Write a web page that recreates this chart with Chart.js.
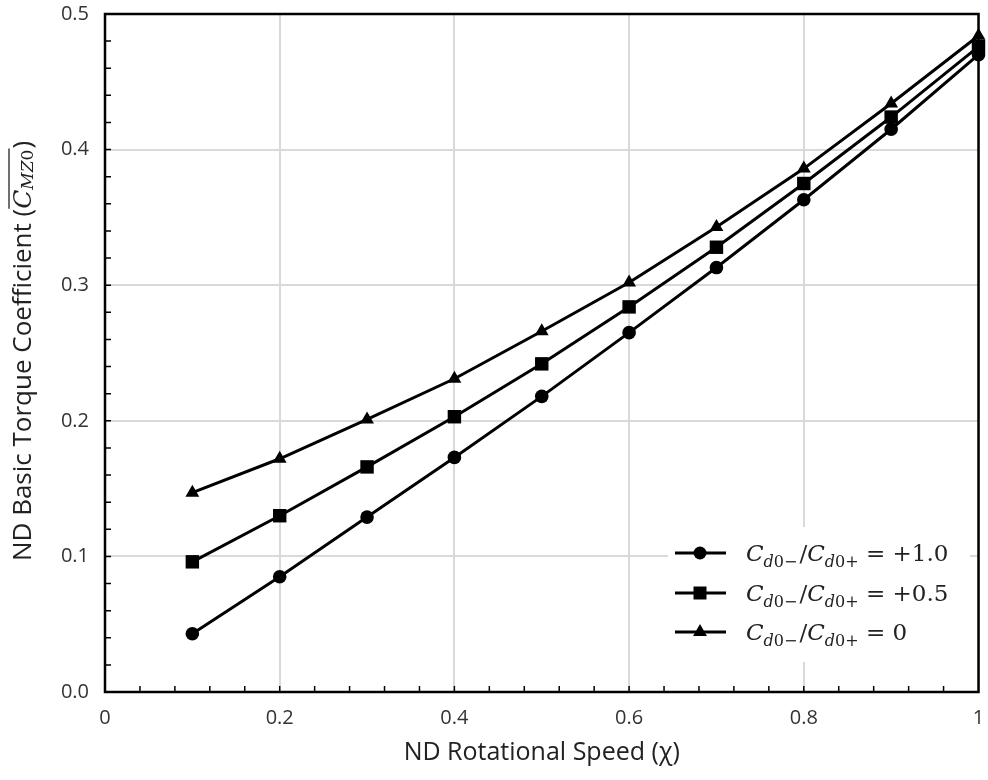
<!DOCTYPE html>
<html>
<head>
<meta charset="utf-8">
<script src="https://cdn.jsdelivr.net/npm/chart.js@4.4.1/dist/chart.umd.min.js"></script>
<style>
  html, body { margin: 0; padding: 0; background: #fff; }
  #wrap { width: 988px; height: 780px; position: relative; }
</style>
</head>
<body>
<div id="wrap"><canvas id="c" width="988" height="780"></canvas></div>
<script>
// ---- data ----
const speeds = [0.1, 0.2, 0.3, 0.4, 0.5, 0.6, 0.7, 0.8, 0.9, 1.0];
const ratioPlus10 = [0.043, 0.085, 0.129, 0.173, 0.218, 0.265, 0.313, 0.363, 0.415, 0.470];
const ratioPlus05 = [0.096, 0.130, 0.166, 0.203, 0.242, 0.284, 0.328, 0.375, 0.424, 0.476];
const ratioZero   = [0.147, 0.172, 0.201, 0.231, 0.266, 0.302, 0.343, 0.386, 0.434, 0.484];
const legendValues = ['+1.0', '+0.5', '0'];
const xTickLabels = ['0', '0.2', '0.4', '0.6', '0.8', '1'];
const yTickLabels = ['0.0', '0.1', '0.2', '0.3', '0.4', '0.5'];
const xTitle = 'ND Rotational Speed (\u03C7)';
const yTitleText = 'ND Basic Torque Coefficient (';

const SANS = '"Open Sans", Lato, sans-serif';
const SERIF = '"DejaVu Serif", "Liberation Serif", serif';

function pts(ys) { return speeds.map((x, i) => ({ x: x, y: ys[i] })); }

function runs(ctx, x, y, list, measureOnly) {
  for (const r of list) {
    ctx.font = r.f;
    if (!measureOnly) ctx.fillText(r.t, x, y + (r.dy || 0));
    x += ctx.measureText(r.t).width + (r.sp || 0);
  }
  return x;
}

function drawMarker(ctx, style, x, y) {
  ctx.beginPath();
  if (style === 'circle') {
    ctx.arc(x, y, 6.5, 0, Math.PI * 2);
  } else if (style === 'rect') {
    ctx.rect(x - 6.5, y - 6.5, 13, 13);
  } else {
    const r = 8;
    ctx.moveTo(x, y - r);
    ctx.lineTo(x + r * Math.sin(2 * Math.PI / 3), y - r * Math.cos(2 * Math.PI / 3));
    ctx.lineTo(x - r * Math.sin(2 * Math.PI / 3), y - r * Math.cos(2 * Math.PI / 3));
    ctx.closePath();
  }
  ctx.fill();
}

const framePlugin = {
  id: 'frame',
  beforeDatasetsDraw(chart) {
    const ctx = chart.ctx, a = chart.chartArea;
    const xs = chart.scales.x, ys = chart.scales.y;
    ctx.save();
    ctx.strokeStyle = '#000';
    ctx.lineWidth = 1.5;
    ctx.beginPath();
    for (let i = 1; i < 25; i++) {
      const px = xs.getPixelForValue(i * 0.04);
      ctx.moveTo(px, a.bottom); ctx.lineTo(px, a.bottom - 6);
    }
    for (let i = 1; i < 25; i++) {
      const py = ys.getPixelForValue(i * 0.02);
      ctx.moveTo(a.left, py); ctx.lineTo(a.left + 6, py);
    }
    ctx.stroke();
    ctx.lineWidth = 2.5;
    ctx.strokeRect(a.left, a.top, a.right - a.left, a.bottom - a.top);
    ctx.restore();
  },
  afterDraw(chart) {
    const ctx = chart.ctx, a = chart.chartArea;
    ctx.save();
    // legend
    const lx = 668, ly = 527, lw = 302, lh = 135;
    ctx.fillStyle = '#fff';
    ctx.fillRect(lx, ly, lw, lh);
    const styles = ['circle', 'rect', 'triangle'];
    const rowsY = [553, 593, 632];
    for (let i = 0; i < 3; i++) {
      const y = rowsY[i];
      ctx.strokeStyle = '#000'; ctx.lineWidth = 3;
      ctx.beginPath(); ctx.moveTo(675, y); ctx.lineTo(726, y); ctx.stroke();
      ctx.fillStyle = '#000';
      drawMarker(ctx, styles[i], 700, y);
      ctx.textBaseline = 'alphabetic'; ctx.textAlign = 'left';
      ctx.fillStyle = '#222';
      const base = y + 8;
      const big = 'italic 23px ' + SERIF, up = '23px ' + SERIF;
      const si = 'italic 16px ' + SERIF, su = '16px ' + SERIF;
      runs(ctx, 746, base, [
        { t: 'C', f: big, sp: 0 },
        { t: 'd', f: si, dy: 6 },
        { t: '0\u2212', f: su, dy: 6, sp: 2 },
        { t: '/', f: up, sp: 0 },
        { t: 'C', f: big, sp: 0 },
        { t: 'd', f: si, dy: 6 },
        { t: '0+', f: su, dy: 6 },
        { t: ' = ' + legendValues[i], f: up }
      ]);
    }
    // y axis title
    ctx.translate(24, 351);
    ctx.rotate(-Math.PI / 2);
    ctx.fillStyle = '#222';
    ctx.textBaseline = 'middle'; ctx.textAlign = 'left';
    const list1 = [{ t: yTitleText, f: '26px ' + SANS }];
    const list2 = [
      { t: 'C', f: 'italic 25px ' + SERIF, sp: 0 },
      { t: 'MZ', f: 'italic 17px ' + SERIF, dy: 5 },
      { t: '0', f: '17px ' + SERIF, dy: 5, sp: 1 }
    ];
    const list3 = [{ t: ')', f: '26px ' + SANS }];
    const w1 = runs(ctx, 0, 0, list1, true);
    const w2 = runs(ctx, 0, 0, list2, true);
    const w3 = runs(ctx, 0, 0, list3, true);
    let x0 = -(w1 + w2 + w3) / 2;
    let x1 = runs(ctx, x0, 0, list1);
    let x2 = runs(ctx, x1, 0, list2);
    runs(ctx, x2, 0, list3);
    ctx.strokeStyle = '#222'; ctx.lineWidth = 1.3;
    ctx.beginPath(); ctx.moveTo(x1, -15); ctx.lineTo(x2, -15); ctx.stroke();
    ctx.restore();
  }
};

const common = { borderColor: '#000', backgroundColor: '#000', borderWidth: 3,
  pointBorderWidth: 0, pointHoverRadius: 7, clip: false };

new Chart(document.getElementById('c'), {
  type: 'line',
  data: {
    datasets: [
      Object.assign({ label: 'C_d0-/C_d0+ = +1.0', data: pts(ratioPlus10), pointStyle: 'circle', pointRadius: 6.8 }, common),
      Object.assign({ label: 'C_d0-/C_d0+ = +0.5', data: pts(ratioPlus05), pointStyle: 'rect', pointRadius: 9.5 }, common),
      Object.assign({ label: 'C_d0-/C_d0+ = 0', data: pts(ratioZero), pointStyle: 'triangle', pointRadius: 8 }, common)
    ]
  },
  options: {
    responsive: false,
    animation: false,
    devicePixelRatio: 1,
    layout: { padding: { top: 14, right: 9, left: 0, bottom: 0 } },
    plugins: { legend: { display: false }, tooltip: { enabled: false } },
    scales: {
      x: {
        type: 'linear', min: 0, max: 1,
        afterFit(s) { s.height = 88; s.paddingLeft = 0; s.paddingRight = 0; },
        border: { display: false },
        grid: { color: '#d9d9d9', lineWidth: 2, drawTicks: false },
        ticks: { stepSize: 0.2, padding: 14, color: '#333', font: { family: SANS, size: 20 },
          callback: (v) => xTickLabels[Math.round(v / 0.2)] },
        title: { display: true, text: xTitle, color: '#222', font: { family: SANS, size: 25 }, padding: { top: 2, bottom: 12 } }
      },
      y: {
        type: 'linear', min: 0, max: 0.5,
        afterFit(s) { s.width = 105; s.paddingTop = 0; s.paddingBottom = 0; },
        border: { display: false },
        grid: { color: '#d9d9d9', lineWidth: 2, drawTicks: false },
        ticks: { stepSize: 0.1, padding: 16, color: '#333', font: { family: SANS, size: 20 },
          callback: (v) => yTickLabels[Math.round(v / 0.1)] }
      }
    }
  },
  plugins: [framePlugin]
});
</script>
</body>
</html>
